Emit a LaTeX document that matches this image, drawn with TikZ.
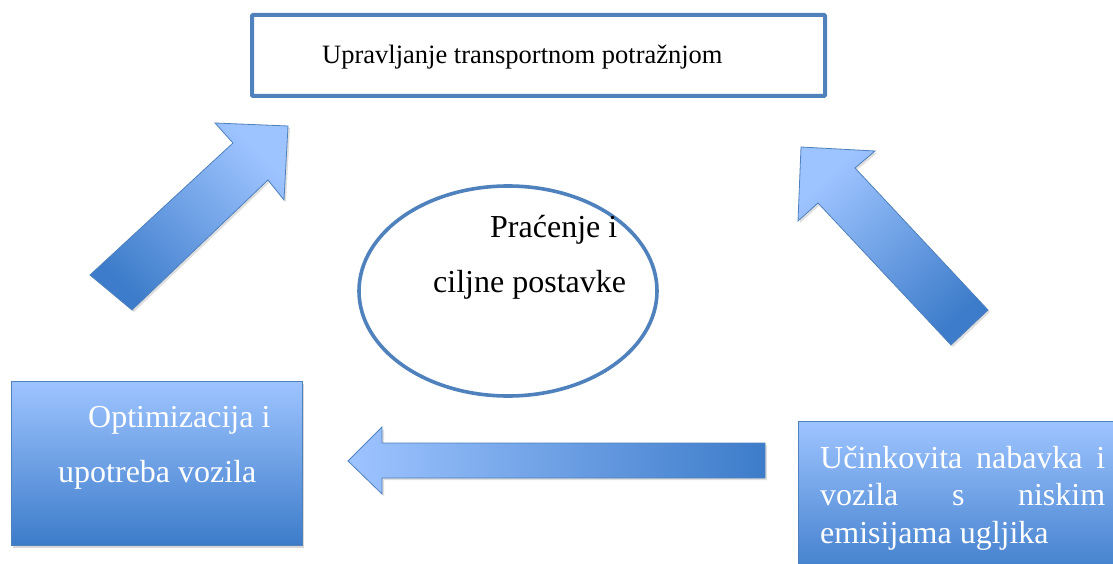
\documentclass[tikz,border=0pt]{standalone}
\usepackage{fontspec}
\setmainfont{Liberation Serif}
\usetikzlibrary{shadows}
\definecolor{bordblue}{HTML}{4F81BD}
\definecolor{lightblue}{HTML}{9EC4FF}
\definecolor{darkblue}{HTML}{3D7CCA}
\tikzset{
  blockarrow/.style={draw=bordblue, line width=0.8pt, line join=miter,
    drop shadow={opacity=0.25, shadow xshift=2pt, shadow yshift=-2pt}},
  gradbox/.style={draw=bordblue, line width=0.8pt, top color=lightblue, bottom color=darkblue,
    drop shadow={opacity=0.3, shadow xshift=2pt, shadow yshift=-3pt}},
  bigtext/.style={font=\fontsize{32}{38}\selectfont, anchor=base west, inner sep=0pt},
  whitetext/.style={bigtext, text=white}
}
\begin{document}
\begin{tikzpicture}[x=1pt,y=-1pt]
\useasboundingbox (0,0) rectangle (1113,564);
\fill[white] (0,0) rectangle (1113,564);

% top box
\node[draw=bordblue, line width=4pt, rounded corners=1pt, minimum width=573pt, minimum height=81pt] (topbox) at (538.5,55.5) {};
\node[font=\fontsize{26.5}{30}\selectfont, anchor=base west, inner sep=0pt] (toptext) at (322,64) {Upravljanje transportnom potražnjom};

% ellipse
\draw[bordblue, line width=3.6pt] (508,291) ellipse [x radius=149, y radius=105];
\node[bigtext] (mid1) at (490,237) {Praćenje i};
\node[bigtext] (mid2) at (433,292) {ciljne postavke};

% left box
\path[gradbox] (11,381) rectangle (302,545);
\node[whitetext] (l1) at (88,427) {Optimizacija i};
\node[whitetext] (l2) at (58,482) {upotreba vozila};

% right box
\path[gradbox] (798,421) rectangle (1125,580);
\node[whitetext] (r1) at (820,468) {\hbox to 285pt{Učinkovita\hfill nabavka\hfill i}};
\node[whitetext] (r2) at (820,505) {\hbox to 285pt{vozila\hfill s\hfill niskim}};
\node[whitetext] (r3) at (820,543) {emisijama ugljika};

% bottom arrow (pointing left)
\path[blockarrow, left color=lightblue, right color=darkblue]
  (348,461) -- (382,427) -- (382,443) -- (765,443) -- (765,478) -- (382,478) -- (382,494) -- cycle;

% left diagonal arrow (pointing up-right)
\path[blockarrow, top color=lightblue, bottom color=darkblue, shading angle=-45]
  (90,275) -- (233,143) -- (215,123) -- (288,126) -- (284,200) -- (268,180) -- (132,310) -- cycle;

% right diagonal arrow (pointing up-left)
\path[blockarrow, top color=lightblue, bottom color=darkblue, shading angle=43]
  (801,147) -- (875,151) -- (855,168) -- (988,310) -- (951,345) -- (818,203) -- (798,221) -- cycle;
\end{tikzpicture}
\end{document}
